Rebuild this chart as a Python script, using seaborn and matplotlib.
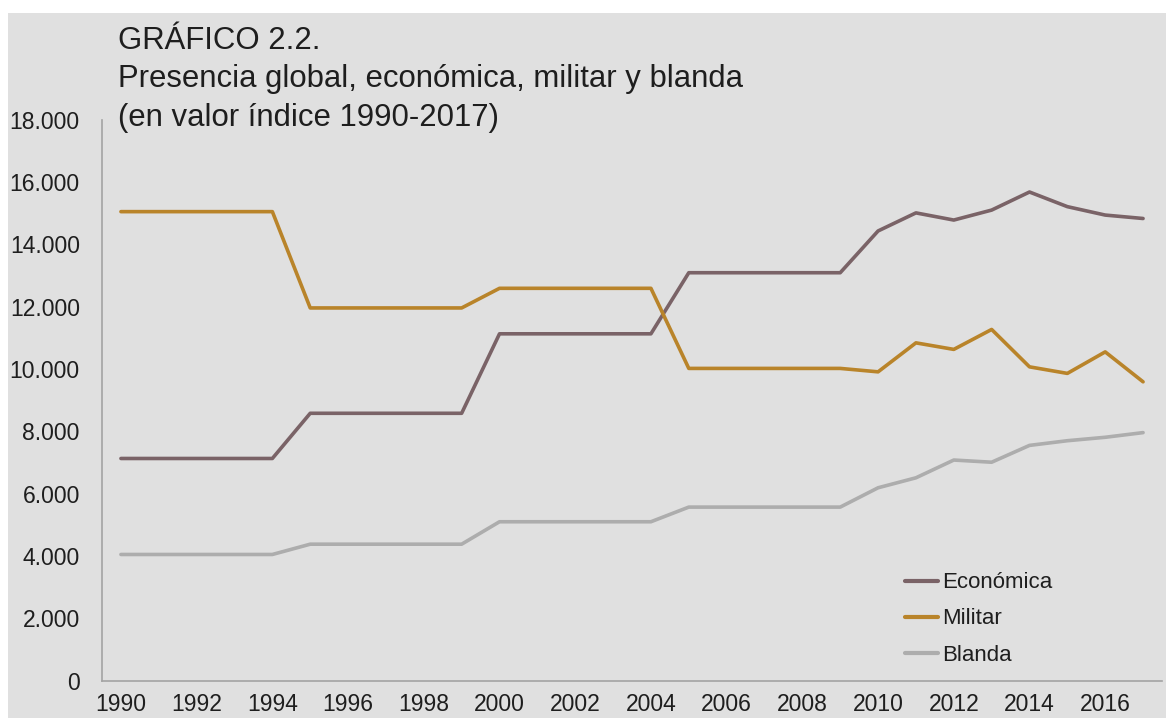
import numpy as np
import pandas as pd
import matplotlib
matplotlib.use('Agg')
import matplotlib.pyplot as plt
import seaborn as sns
from matplotlib.patches import Rectangle
from matplotlib.ticker import FixedLocator, FuncFormatter

# data
years = [1990, 1991, 1992, 1993, 1994, 1995, 1996, 1997, 1998, 1999,
         2000, 2001, 2002, 2003, 2004, 2005, 2006, 2007, 2008, 2009,
         2010, 2011, 2012, 2013, 2014, 2015, 2016, 2017]
economica = [7130, 7130, 7130, 7130, 7130, 8580, 8580, 8580, 8580, 8580,
             11130, 11130, 11130, 11130, 11130, 13090, 13090, 13090, 13090, 13090,
             14430, 15010, 14780, 15100, 15680, 15210, 14940, 14830]
militar = [15050, 15050, 15050, 15050, 15050, 11960, 11960, 11960, 11960, 11960,
           12590, 12590, 12590, 12590, 12590, 10020, 10020, 10020, 10020, 10020,
           9910, 10840, 10630, 11270, 10070, 9860, 10550, 9590]
blanda = [4050, 4050, 4050, 4050, 4050, 4380, 4380, 4380, 4380, 4380,
          5100, 5100, 5100, 5100, 5100, 5570, 5570, 5570, 5570, 5570,
          6190, 6510, 7080, 7010, 7550, 7700, 7810, 7960]
series = ['Económica', 'Militar', 'Blanda']
colors = {'Económica': '#7a6367', 'Militar': '#b9842a', 'Blanda': '#adadad'}
year_labels = [str(y) for y in years if y % 2 == 0]

df = pd.DataFrame({'Año': years * 3,
                   'Valor': economica + militar + blanda,
                   'Serie': [s for s in series for _ in years]})

sns.set_theme(style='white')
plt.rcParams['font.family'] = ['Liberation Sans', 'DejaVu Sans']
bg = '#e0e0e0'
spine = '#a3a3a3'
txt = '#1e1e1e'

fig = plt.figure(figsize=(11.66, 7.18), dpi=100, facecolor='white')
fig.patches.append(Rectangle((8 / 1166, 0), 1 - 8 / 1166, 1 - 13 / 718,
                             transform=fig.transFigure, facecolor=bg,
                             edgecolor='none', zorder=-10))
ax = fig.add_axes([102 / 1166, 37.3 / 718, 1060 / 1166, 561 / 718])
ax.set_facecolor('none')

sns.lineplot(data=df, x='Año', y='Valor', hue='Serie', hue_order=series,
             palette=colors, linewidth=2.6, ax=ax, legend=True)

ax.set_xlim(years[0] - 0.5, years[-1] + 0.5)
ax.set_ylim(0, 18000)
ax.set_xlabel('')
ax.set_ylabel('')

# category style x axis: tick marks between years, labels every two years
ax.xaxis.set_major_locator(FixedLocator([y - 0.5 for y in years] + [years[-1] + 0.5]))
ax.xaxis.set_major_formatter(FuncFormatter(lambda v, p: ''))
ax.xaxis.set_minor_locator(FixedLocator([int(s) for s in year_labels]))
ax.xaxis.set_minor_formatter(FuncFormatter(lambda v, p: str(int(round(v)))))
ax.tick_params(axis='x', which='major', direction='out', length=5, width=1, color=spine)
ax.tick_params(axis='x', which='minor', length=0, pad=9, labelsize=16.5, labelcolor=txt)

ax.set_yticks(np.arange(0, 18001, 2000))
ax.yaxis.set_major_formatter(FuncFormatter(lambda v, p: f'{v:,.0f}'.replace(',', '.')))
ax.tick_params(axis='y', direction='out', length=5, width=1, color=spine,
               pad=11, labelsize=16.5, labelcolor=txt)

for side in ['top', 'right']:
    ax.spines[side].set_visible(False)
for side in ['left', 'bottom']:
    ax.spines[side].set_color(spine)
    ax.spines[side].set_linewidth(1.2)

handles, labels = ax.get_legend_handles_labels()
ax.get_legend().remove()
for h in handles:
    h.set_linewidth(3)
fig.legend(handles, labels, loc='center left',
           bbox_to_anchor=(905 / 1166, 1 - 619 / 718), frameon=False,
           fontsize=16, handlelength=1.5, handletextpad=0.15,
           labelspacing=0.68, borderpad=0, borderaxespad=0, labelcolor=txt)

title_lines = ['GRÁFICO 2.2.',
               'Presencia global, económica, militar y blanda',
               '(en valor índice 1990-2017)']
for i, line in enumerate(title_lines):
    fig.text(118 / 1166, 1 - (41 + 38.5 * i) / 718, line, fontsize=22.4,
             color=txt, ha='left', va='center')

fig.savefig('out.png', dpi=100, facecolor='white')
